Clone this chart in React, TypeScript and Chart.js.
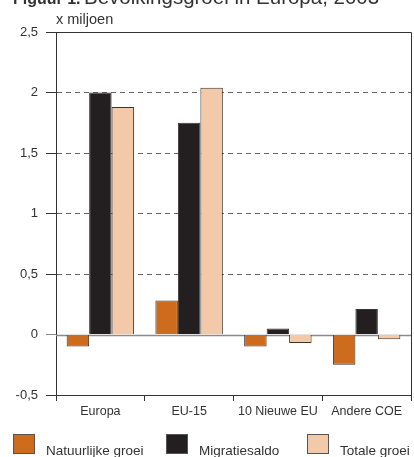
import React, { useEffect, useRef } from "react";
import { Chart, registerables } from "chart.js";

Chart.register(...registerables);

const categories = ["Europa", "EU-15", "10 Nieuwe EU", "Andere COE"];
const natuurlijkeGroei = [-0.1, 0.28, -0.1, -0.25];
const migratiesaldo = [2.0, 1.75, 0.05, 0.21];
const totaleGroei = [1.88, 2.04, -0.07, -0.04];
const seriesNames = ["Natuurlijke groei", "Migratiesaldo", "Totale groei"];
const seriesColors = ["#CD6C1C", "#231F20", "#F2C9A9"];
const yTicks = [-0.5, 0, 0.5, 1, 1.5, 2, 2.5];
const titleBold = "Figuur 1.";
const titleText = "Bevolkingsgroei in Europa, 2003";
const unitLabel = "x miljoen";

const FONT = "'Liberation Sans', Arial, sans-serif";
const TEXT = "#333333";

const decorPlugin = {
  id: "decor",
  beforeDatasetsDraw(chart: any) {
    const { ctx, chartArea, scales } = chart;
    const y0 = Math.round(scales.y.getPixelForValue(0)) + 0.5;
    ctx.save();
    ctx.strokeStyle = "#8a8a8a";
    ctx.lineWidth = 1.5;
    ctx.beginPath();
    ctx.moveTo(chartArea.left, y0);
    ctx.lineTo(chartArea.right, y0);
    ctx.stroke();
    ctx.restore();
  },
  afterDraw(chart: any) {
    const { ctx, chartArea } = chart;
    ctx.save();
    // frame top/right
    ctx.strokeStyle = "#333333";
    ctx.lineWidth = 1;
    ctx.beginPath();
    ctx.moveTo(chartArea.left, Math.round(chartArea.top) + 0.5);
    ctx.lineTo(Math.round(chartArea.right) + 0.5, Math.round(chartArea.top) + 0.5);
    ctx.lineTo(Math.round(chartArea.right) + 0.5, chartArea.bottom);
    ctx.stroke();

    // title
    ctx.fillStyle = TEXT;
    ctx.textBaseline = "alphabetic";
    ctx.textAlign = "left";
    ctx.font = `bold 16px ${FONT}`;
    ctx.fillText(titleBold, 13, 4);
    ctx.font = `20.5px ${FONT}`;
    ctx.fillText(titleText, 84, 4);

    // unit label
    ctx.font = `14.5px ${FONT}`;
    ctx.fillText(unitLabel, 56, 24);

    // legend
    const cols = [13, 166, 307];
    chart.data.datasets.forEach((ds: any, i: number) => {
      const x = cols[i];
      ctx.fillStyle = ds.backgroundColor;
      ctx.fillRect(x, 434, 22, 20);
      ctx.strokeStyle = "#555555";
      ctx.lineWidth = 1;
      ctx.strokeRect(x + 0.5, 434.5, 21, 19);
      ctx.fillStyle = TEXT;
      ctx.font = `13.5px ${FONT}`;
      ctx.fillText(ds.label, x + 33, 455);
    });
    ctx.restore();
  },
};

export default function App() {
  const ref = useRef<HTMLCanvasElement | null>(null);
  useEffect(() => {
    if (!ref.current) return;
    const data = [natuurlijkeGroei, migratiesaldo, totaleGroei];
    const chart = new Chart(ref.current, {
      type: "bar",
      data: {
        labels: categories,
        datasets: data.map((d, i) => ({
          label: seriesNames[i],
          data: d,
          backgroundColor: seriesColors[i],
          borderColor: "#3a3432",
          borderWidth: 1,
          categoryPercentage: 0.76,
          barPercentage: 1,
        })),
      },
      options: {
        animation: false,
        responsive: false,
        maintainAspectRatio: false,
        devicePixelRatio: 1,
        layout: { padding: { top: 32, right: 3, left: 0, bottom: 0 } },
        plugins: { legend: { display: false }, tooltip: { enabled: false } },
        scales: {
          x: {
            offset: true,
            afterFit: (s: any) => {
              s.height = 62;
            },
            grid: {
              offset: true,
              drawOnChartArea: false,
              drawTicks: true,
              tickLength: 6,
              tickColor: "#333333",
            },
            border: { display: true, color: "#333333", width: 1 },
            ticks: {
              color: TEXT,
              font: { family: FONT, size: 12.5 },
              padding: 3,
              maxRotation: 0,
              autoSkip: false,
            },
          },
          y: {
            min: -0.5,
            max: 2.5,
            afterFit: (s: any) => {
              s.width = 56;
            },
            afterBuildTicks: (s: any) => {
              s.ticks = yTicks.map((v) => ({ value: v }));
            },
            grid: {
              color: (c: any) => {
                const v = c.tick ? c.tick.value : null;
                if (v === 0 || v === -0.5 || v === 2.5) return "rgba(0,0,0,0)";
                return "#666666";
              },
              lineWidth: 1,
              tickLength: 10,
              tickColor: (c: any) => (c.tick && c.tick.value === 0 ? "#8a8a8a" : "#333333"),
              tickWidth: 1,
              tickBorderDash: [],
            },
            border: { display: true, color: "#333333", width: 1, dash: [5, 4] },
            ticks: {
              color: TEXT,
              font: { family: FONT, size: 13 },
              padding: 8,
              callback: (v: any) => String(v).replace(".", ","),
            },
          },
        },
      },
      plugins: [decorPlugin],
    });
    return () => chart.destroy();
  }, []);
  return (
    <div style={{ position: "fixed", left: 0, top: 0, width: 414, height: 457, background: "#fff" }}>
      <canvas ref={ref} width={414} height={457} style={{ width: 414, height: 457, display: "block" }} />
    </div>
  );
}
